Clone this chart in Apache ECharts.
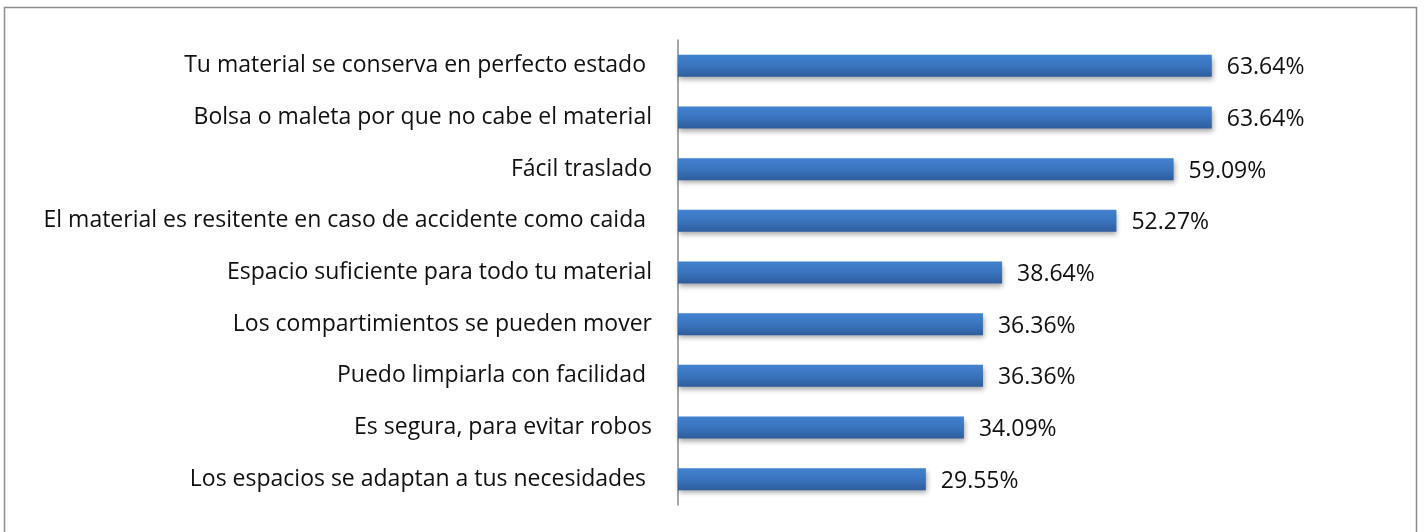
<!DOCTYPE html>
<html><head><meta charset="utf-8">
<script src="https://cdn.jsdelivr.net/npm/echarts@6/dist/echarts.min.js"></script>
<style>html,body{margin:0;padding:0;background:#fff}#c{width:1425px;height:532px}</style>
</head><body><div id="c"></div>
<script>
var categories = [
  "Tu material se conserva en perfecto estado ",
  "Bolsa o maleta por que no cabe el material",
  "Fácil traslado",
  "El material es resitente en caso de accidente como caida ",
  "Espacio suficiente para todo tu material",
  "Los compartimientos se pueden mover",
  "Puedo limpiarla con facilidad ",
  "Es segura, para evitar robos",
  "Los espacios se adaptan a tus necesidades "
];
var values = [63.64, 63.64, 59.09, 52.27, 38.64, 36.36, 36.36, 34.09, 29.55];

var chart = echarts.init(document.getElementById('c'));
chart.setOption({
  animation: false,
  graphic: [{
    type: 'rect', shape: {x: 4.5, y: 7.5, width: 1412, height: 540},
    style: {fill: 'none', stroke: '#8c8c8c', lineWidth: 1.5}, silent: true
  }],
  grid: {left: 678, top: 40, height: 465, width: 671},
  xAxis: {type: 'value', min: 0, max: 80, show: false},
  yAxis: {
    type: 'category', data: categories, inverse: true,
    axisLine: {show: true, lineStyle: {color: '#888', width: 1.5}},
    axisTick: {show: false},
    axisLabel: {fontFamily: 'Open Sans', fontSize: 23, color: '#111', margin: 26, padding: [4, 0, 0, 0]}
  },
  series: [{
    type: 'bar', data: values, barWidth: 22,
    itemStyle: {
      color: new echarts.graphic.LinearGradient(0, 0, 0, 1, [
        {offset: 0, color: '#4282d0'}, {offset: 0.5, color: '#3a74be'}, {offset: 1, color: '#2e5d9c'}
      ]),
      shadowColor: 'rgba(0,0,0,0.35)', shadowBlur: 5, shadowOffsetX: 1, shadowOffsetY: 3
    },
    label: {
      show: true, position: 'right', distance: 15, offset: [0, 2],
      fontFamily: 'Open Sans', fontSize: 23, color: '#111',
      formatter: function(p){ return p.value.toFixed(2) + '%'; }
    }
  }]
});
</script></body></html>
